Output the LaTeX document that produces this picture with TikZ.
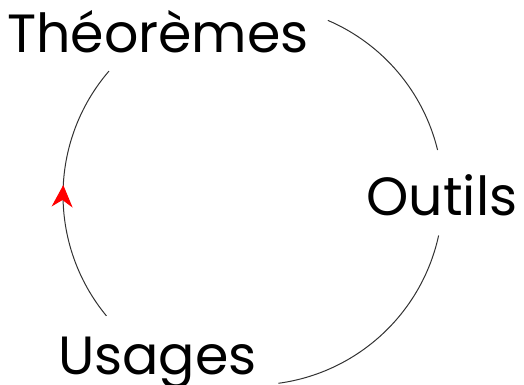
\documentclass[tikz,border=0pt]{standalone}
\usepackage{fontspec}
\setmainfont{Poppins}
\usetikzlibrary{arrows.meta,decorations.markings,calc}
\begin{document}
\begin{tikzpicture}[x=1bp,y=1bp,
  lbl/.style={anchor=base,inner sep=0pt,font=\fontsize{54}{60}\selectfont},
  arcline/.style={line width=1bp,draw=black!80},
  redarrow/.style={postaction={decorate},decoration={markings,
     mark=at position 0.53 with {\arrow{Stealth[length=22bp,width=21bp,inset=7bp,red]}}}}]
\useasboundingbox (0,0) rectangle (524,384);
\coordinate (c) at (253,189);
\node[lbl] (t) at (158,332) {Théorèmes};
\node[lbl] (o) at (442,169) {Outils};
\node[lbl] (u) at (157.5,10) {Usages};
\coordinate (t1) at ($(c)+(66.8:190)$);
\coordinate (o1) at ($(c)+(-12.3:190)$);
\coordinate (u1) at ($(c)+(219.5:190)$);
\draw[arcline] (t1) arc[start angle=66.8,end angle=13.7,radius=190];
\draw[arcline] (o1) arc[start angle=-12.3,end angle=-82.3,radius=190];
\draw[arcline,redarrow] (u1) arc[start angle=219.5,end angle=139.3,radius=190];
\end{tikzpicture}
\end{document}
